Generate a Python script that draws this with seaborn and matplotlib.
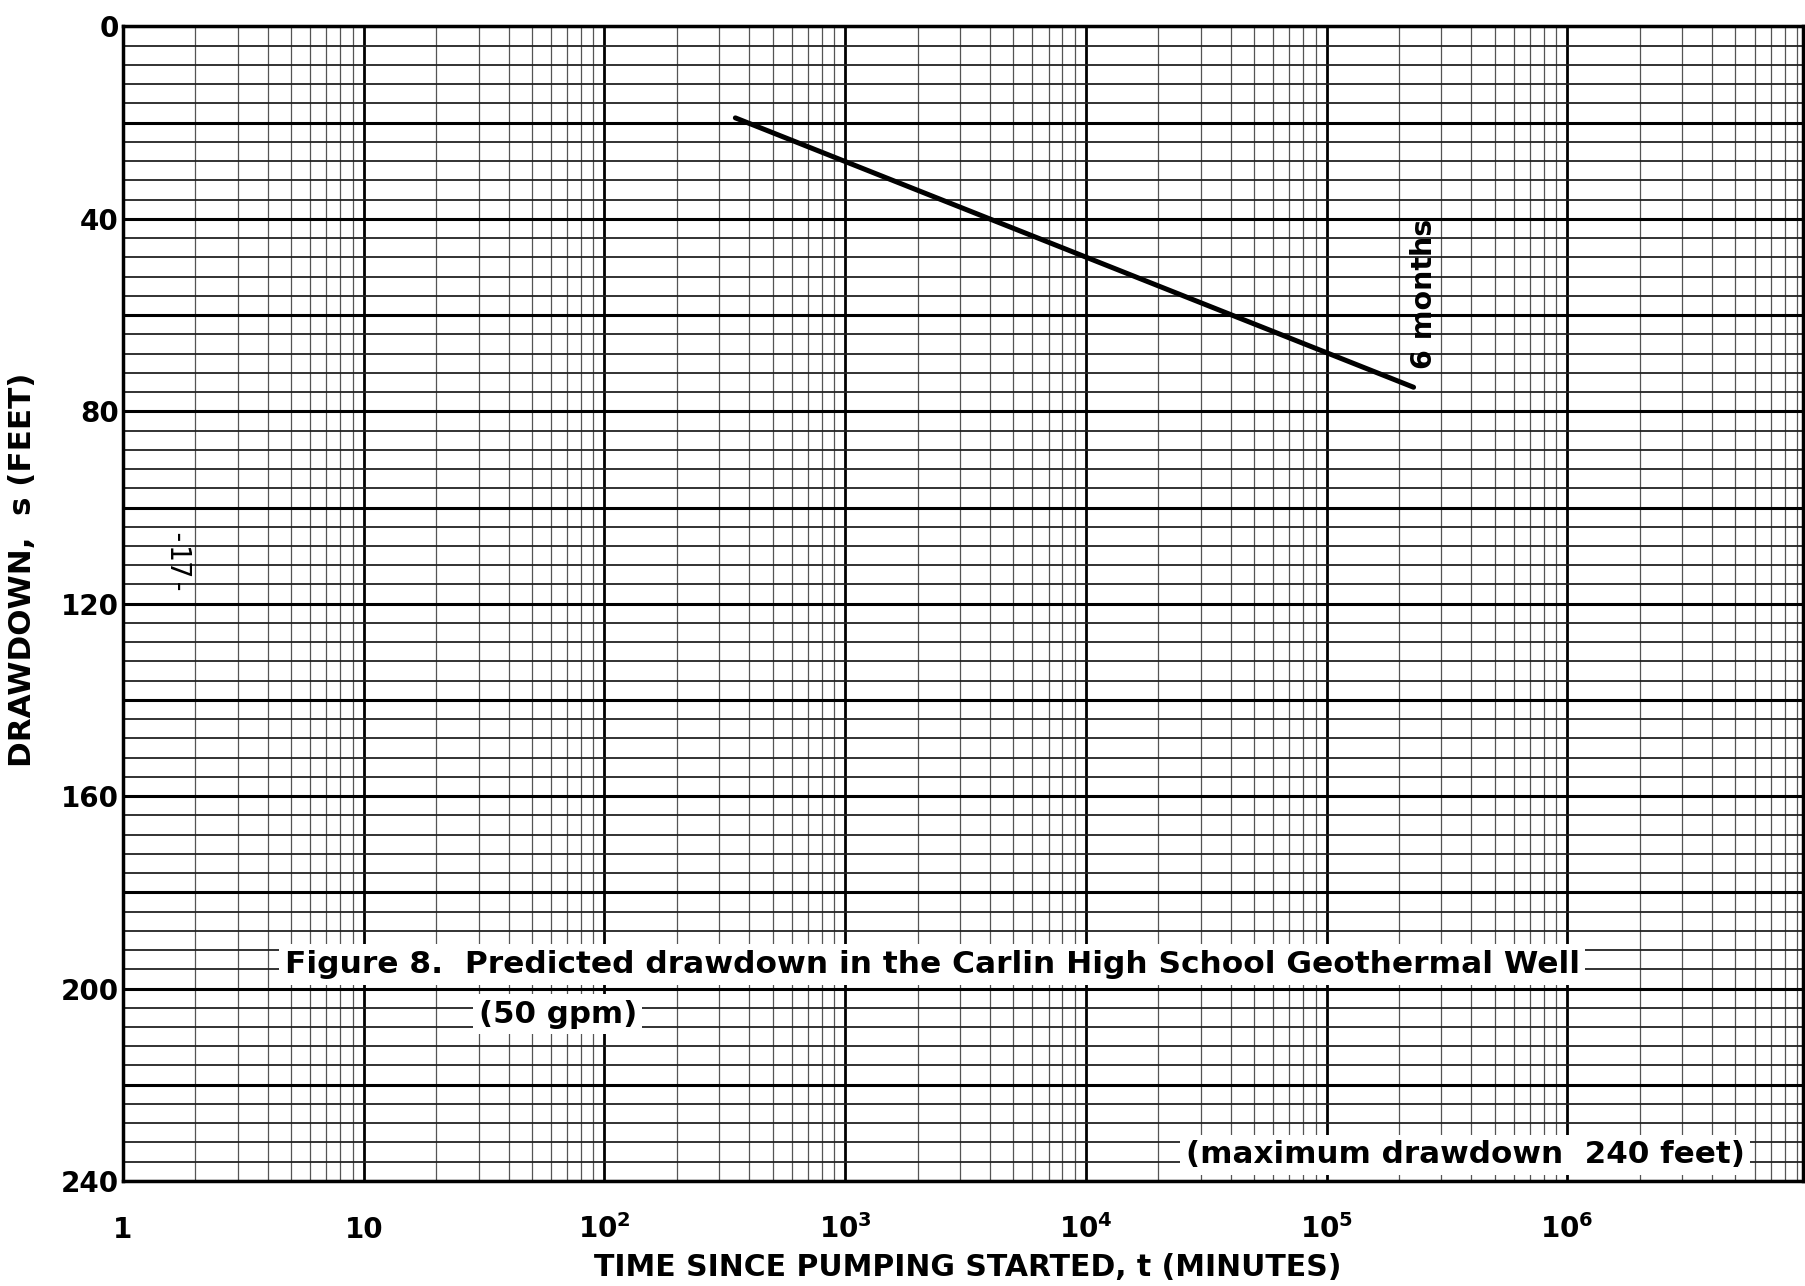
import numpy as np
import pandas as pd
import seaborn as sns
import matplotlib.pyplot as plt
from matplotlib.ticker import FixedLocator, NullFormatter

# predicted drawdown line (Cooper-Jacob straight line)
time_min = [350, 2.3e5]
drawdown_ft = [19, 75]

# axis ticks
x_decades = [1, 10, 1e2, 1e3, 1e4, 1e5, 1e6]
x_labels = ['1', '10', '$10^{2}$', '$10^{3}$', '$10^{4}$', '$10^{5}$', '$10^{6}$']
y_major = list(range(0, 241, 20))
y_labels = [str(v) if v % 40 == 0 else '' for v in y_major]
y_minor = list(range(0, 241, 4))

sns.set_style('white')
plt.rcParams['font.family'] = ['DejaVu Sans']
plt.rcParams['mathtext.default'] = 'bf'
plt.rcParams['text.color'] = 'black'
plt.rcParams['xtick.color'] = 'black'
plt.rcParams['ytick.color'] = 'black'

fig = plt.figure(figsize=(18.06, 12.86), dpi=100)
ax = fig.add_axes([0.0681, 0.0817, 0.9303, 0.8977])

df = pd.DataFrame({'t': time_min, 's': drawdown_ft})
ax.set_xscale('log')
sns.lineplot(data=df, x='t', y='s', ax=ax, color='black', lw=3.6, zorder=5)

ax.set_xlim(1, 10 ** 6.98)
ax.set_ylim(240, 0)

# log paper grid
x_minor = [m * d for d in x_decades for m in range(2, 10)]
ax.set_xticks(x_decades, labels=x_labels)
ax.xaxis.set_minor_locator(FixedLocator(x_minor))
ax.xaxis.set_minor_formatter(NullFormatter())
ax.set_yticks(y_major, labels=y_labels)
ax.set_yticks(y_minor, minor=True)

ax.set_axisbelow(True)
ax.grid(which='major', axis='x', color='black', lw=2.0)
ax.grid(which='minor', axis='x', color='#555555', lw=0.9)
ax.grid(which='major', axis='y', color='black', lw=2.2)
ax.grid(which='minor', axis='y', color='#222222', lw=1.3)

ax.tick_params(which='both', length=0)
ax.tick_params(axis='y', pad=3, labelsize=20)
ax.tick_params(axis='x', pad=41, labelsize=20)
for lab in ax.get_yticklabels():
    lab.set_fontweight('bold')
for tk in ax.xaxis.get_major_ticks():
    tk.label1.set_fontweight('bold')
    tk.label1.set_va('baseline')

for sp in ax.spines.values():
    sp.set_color('black')
    sp.set_linewidth(2.5)

ax.set_xlabel('')
ax.set_ylabel('')

fig.text(23 / 1806, 1 - 570 / 1286, 'DRAWDOWN,  s (FEET)', rotation=90,
         ha='center', va='center', fontsize=22.3, fontweight='bold')
fig.text(968 / 1806, 1 - 1267 / 1286, 'TIME SINCE PUMPING STARTED, t (MINUTES)',
         ha='center', va='center', fontsize=21.5, fontweight='bold')

box = dict(facecolor='white', edgecolor='none', pad=4)
ax.text(4.7, 195, 'Figure 8.  Predicted drawdown in the Carlin High School Geothermal Well',
        ha='left', va='center', fontsize=22.5, fontweight='bold', bbox=box, zorder=6)
ax.text(30, 205.3, '(50 gpm)', ha='left', va='center', fontsize=22.2,
        fontweight='bold', bbox=box, zorder=6)
ax.text(2.6e4, 234.6, '(maximum drawdown  240 feet)', ha='left', va='center',
        fontsize=22.3, fontweight='bold', bbox=box, zorder=6)
ax.text(2.55e5, 55.6, '6 months', rotation=90, ha='center', va='center',
        fontsize=20.5, fontweight='bold', zorder=6)
ax.text(1.61, 112, '-17-', rotation=-90, ha='center', va='center', fontsize=20,
        family='DejaVu Sans Mono', zorder=6)

fig.savefig('out.png', dpi=100, facecolor='white')
